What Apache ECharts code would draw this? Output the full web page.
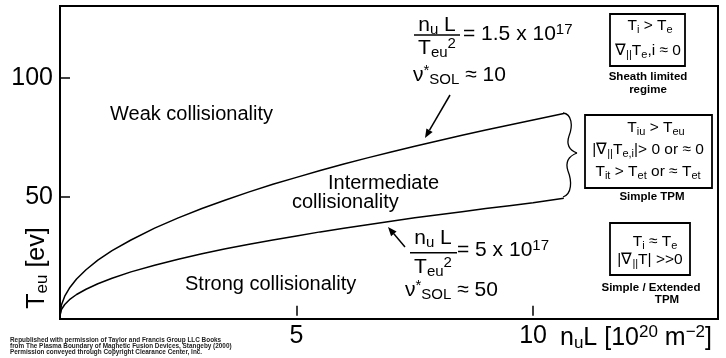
<!DOCTYPE html>
<html>
<head>
<meta charset="utf-8">
<script src="https://cdn.jsdelivr.net/npm/echarts@6/dist/echarts.min.js"></script>
<style>
  html, body { margin: 0; padding: 0; background: #fff; }
  #chart { width: 726px; height: 358px; }
</style>
</head>
<body>
<div id="chart"></div>
<script>
// nuL [1e20 m^-2] sample positions
var nuL = [0, 0.03, 0.1, 0.2, 0.35, 0.55, 0.8, 1.1, 1.5, 2, 2.5, 3, 3.5, 4, 4.5, 5, 5.5, 6, 6.5, 7, 7.5, 8, 8.5, 9, 9.5, 10, 10.65]
// upper boundary: nuL/Teu^2 = 1.5e17
var teuWeak = [0, 4.5, 8.2, 11.6, 15.4, 19.3, 23.3, 27.3, 31.8, 36.8, 41.1, 45.0, 48.6, 52.0, 55.2, 58.1, 61.0, 63.7, 66.3, 68.8, 71.2, 73.5, 75.8, 78.0, 80.1, 82.2, 84.9]
// lower boundary: nuL/Teu^2 = 5e17
var teuStrong = [0, 2.6, 4.7, 6.7, 8.9, 11.1, 13.4, 15.7, 18.4, 21.2, 23.7, 26.0, 28.1, 30.0, 31.8, 33.5, 35.2, 36.7, 38.2, 39.7, 41.1, 42.4, 43.7, 45.0, 46.2, 47.4, 49.3]
var xTicks = [5, 10]
var yTicks = [50, 100]

var FONT = '"Liberation Sans", Arial, Helvetica, sans-serif'

function pairs(xs, ys) {
  return xs.map(function (x, i) { return [x, ys[i]] })
}

// rich text styles, sizes by group
function richSet(size, subSize, lh) {
  return {
    b: { fontSize: size, fontFamily: FONT, lineHeight: lh, fill: '#000' },
    s: { fontSize: subSize, fontFamily: FONT, lineHeight: Math.round(lh * 0.35), verticalAlign: 'bottom', fill: '#000' },
    p: { fontSize: subSize, fontFamily: FONT, lineHeight: Math.round(lh * 0.4), verticalAlign: 'top', fill: '#000' }
  }
}
var eqRich = richSet(21, 15, 24)
var boxRich = richSet(15.5, 11, 18)
var axRich = richSet(25, 17, 28)

function txt(x, y, text, opt) {
  opt = opt || {}
  return {
    type: 'text', x: x, y: y, rotation: opt.rotation || 0, silent: true,
    style: {
      text: text,
      rich: opt.rich,
      fill: opt.color || '#000',
      fontFamily: FONT,
      fontSize: opt.size || 20,
      fontWeight: opt.weight || 'normal',
      textAlign: opt.align || 'left',
      textVerticalAlign: 'middle'
    }
  }
}

function seg(x1, y1, x2, y2, w) {
  return { type: 'line', silent: true, shape: { x1: x1, y1: y1, x2: x2, y2: y2 }, style: { stroke: '#000', lineWidth: w || 1.5 } }
}

function curve(p) {
  return { type: 'bezierCurve', silent: true, shape: { x1: p[0], y1: p[1], cpx1: p[2], cpy1: p[3], cpx2: p[4], cpy2: p[5], x2: p[6], y2: p[7] }, style: { fill: 'none', stroke: '#000', lineWidth: 1.3 } }
}

function arrow(x1, y1, x2, y2) {
  var a = Math.atan2(y2 - y1, x2 - x1), L = 9, W = 3.6
  var bx = x2 - L * Math.cos(a), by = y2 - L * Math.sin(a)
  return [
    seg(x1, y1, bx, by, 1.5),
    { type: 'polygon', silent: true, shape: { points: [[x2, y2], [bx + W * Math.sin(a), by - W * Math.cos(a)], [bx - W * Math.sin(a), by + W * Math.cos(a)]] }, style: { fill: '#000' } }
  ]
}

function box(x, y, w, h) {
  return { type: 'rect', silent: true, shape: { x: x, y: y, width: w, height: h }, style: { fill: 'none', stroke: '#000', lineWidth: 1.8 } }
}

var eq = { rich: eqRich, size: 21 }
var bx = { rich: boxRich, size: 15.5, align: 'center' }
var bold = { size: 11.5, weight: 'bold', align: 'center' }
var credit = { size: 6.4, weight: 'bold', color: '#222' }

var graphics = [
  // region labels
  txt(110, 114, 'Weak collisionality'),
  txt(328, 183, 'Intermediate'),
  txt(292, 202, 'collisionality'),
  txt(185, 284.5, 'Strong collisionality'),

  // upper relation
  txt(437, 25, '{b|n}{s|u}{b| L}', { rich: eqRich, align: 'center' }),
  seg(414, 35, 460, 35, 1.5),
  txt(437, 48, '{b|T}{s|eu}{p|2}', { rich: eqRich, align: 'center' }),
  txt(463, 34.5, '{b|= 1.5 x 10}{p|17}', eq),
  txt(413, 75.5, '{b|ν}{p|*}{s|SOL}{b| ≈ 10}', eq),

  // lower relation
  txt(433, 238.5, '{b|n}{s|u}{b| L}', { rich: eqRich, align: 'center' }),
  seg(410, 252.7, 457, 252.7, 1.5),
  txt(433, 267.5, '{b|T}{s|eu}{p|2}', { rich: eqRich, align: 'center' }),
  txt(457, 250.5, '{b|= 5 x 10}{p|17}', eq),
  txt(405, 290.5, '{b|ν}{p|*}{s|SOL}{b| ≈ 50}', eq),

  // brace
  curve([563, 113, 572, 114, 573, 126, 569, 136]),
  curve([569, 136, 566, 145, 569, 150, 577, 153]),
  curve([577, 153, 569, 156, 565, 162, 568, 171]),
  curve([568, 171, 572, 181, 572, 194, 563, 197]),

  // regime boxes
  box(610, 14, 75, 52),
  txt(650, 26, '{b|T}{s|i}{b| > T}{s|e}', bx),
  txt(648, 51, '{b|∇}{s|||}{b|T}{s|e}{b|,i ≈ 0}', bx),
  txt(648, 77, 'Sheath limited', bold),
  txt(648, 90, 'regime', bold),

  box(585, 115, 127, 73),
  txt(656, 128, '{b|T}{s|iu}{b| > T}{s|eu}', bx),
  txt(648, 150, '{b||∇}{s|||}{b|T}{s|e,i}{b||> 0 or ≈ 0}', bx),
  txt(648, 172, '{b|T}{s|it}{b| > T}{s|et}{b| or ≈ T}{s|et}', bx),
  txt(652, 197, 'Simple TPM', bold),

  box(610, 223, 80, 52),
  txt(655, 242, '{b|T}{s|i}{b| ≈ T}{s|e}', bx),
  txt(650, 260, '{b||∇}{s|||}{b|T| >>0}', bx),
  txt(651, 288, 'Simple / Extended', bold),
  txt(667, 300, 'TPM', bold),

  // axis titles
  txt(560, 338, '{b|n}{s|u}{b|L [10}{p|20}{b| m}{p|−2}{b|]}', { rich: axRich, size: 25 }),
  txt(37, 268, '{b|T}{s|eu}{b| [ev]}', { rich: axRich, size: 25, align: 'center', rotation: Math.PI / 2 }),

  // credit
  txt(10, 340, 'Republished with permission of Taylor and Francis Group LLC Books', credit),
  txt(10, 346.3, 'from The Plasma Boundary of Magnetic Fusion Devices, Stangeby (2000)', credit),
  txt(10, 352.6, 'Permission conveyed through Copyright Clearance Center, Inc.', credit)
]
graphics = graphics.concat(arrow(450, 95, 425, 138), arrow(405, 247, 388, 227))

var chart = echarts.init(document.getElementById('chart'), null, { renderer: 'canvas' })
chart.setOption({
  animation: false,
  backgroundColor: '#fff',
  grid: { left: 60, top: 6, right: 8, bottom: 39, show: true, borderColor: '#000', borderWidth: 2, backgroundColor: 'transparent' },
  xAxis: {
    type: 'value', min: 0, max: 13.91,
    axisLine: { show: false },
    splitLine: { show: false },
    axisTick: { show: true, inside: true, length: 10, customValues: xTicks, lineStyle: { color: '#000', width: 1.5 } },
    axisLabel: { customValues: xTicks, margin: 5, color: '#000', fontSize: 25, fontFamily: FONT }
  },
  yAxis: {
    type: 'value', min: -1.4, max: 130.1,
    axisLine: { show: false },
    splitLine: { show: false },
    axisTick: { show: true, inside: true, length: 10, customValues: yTicks, lineStyle: { color: '#000', width: 1.5 } },
    axisLabel: { customValues: yTicks, margin: 7, color: '#000', fontSize: 25, fontFamily: FONT }
  },
  series: [
    { type: 'line', data: pairs(nuL, teuWeak), showSymbol: false, smooth: false, lineStyle: { color: '#000', width: 1.5 } },
    { type: 'line', data: pairs(nuL, teuStrong), showSymbol: false, smooth: false, lineStyle: { color: '#000', width: 1.5 } }
  ],
  graphic: graphics
})
</script>
</body>
</html>
